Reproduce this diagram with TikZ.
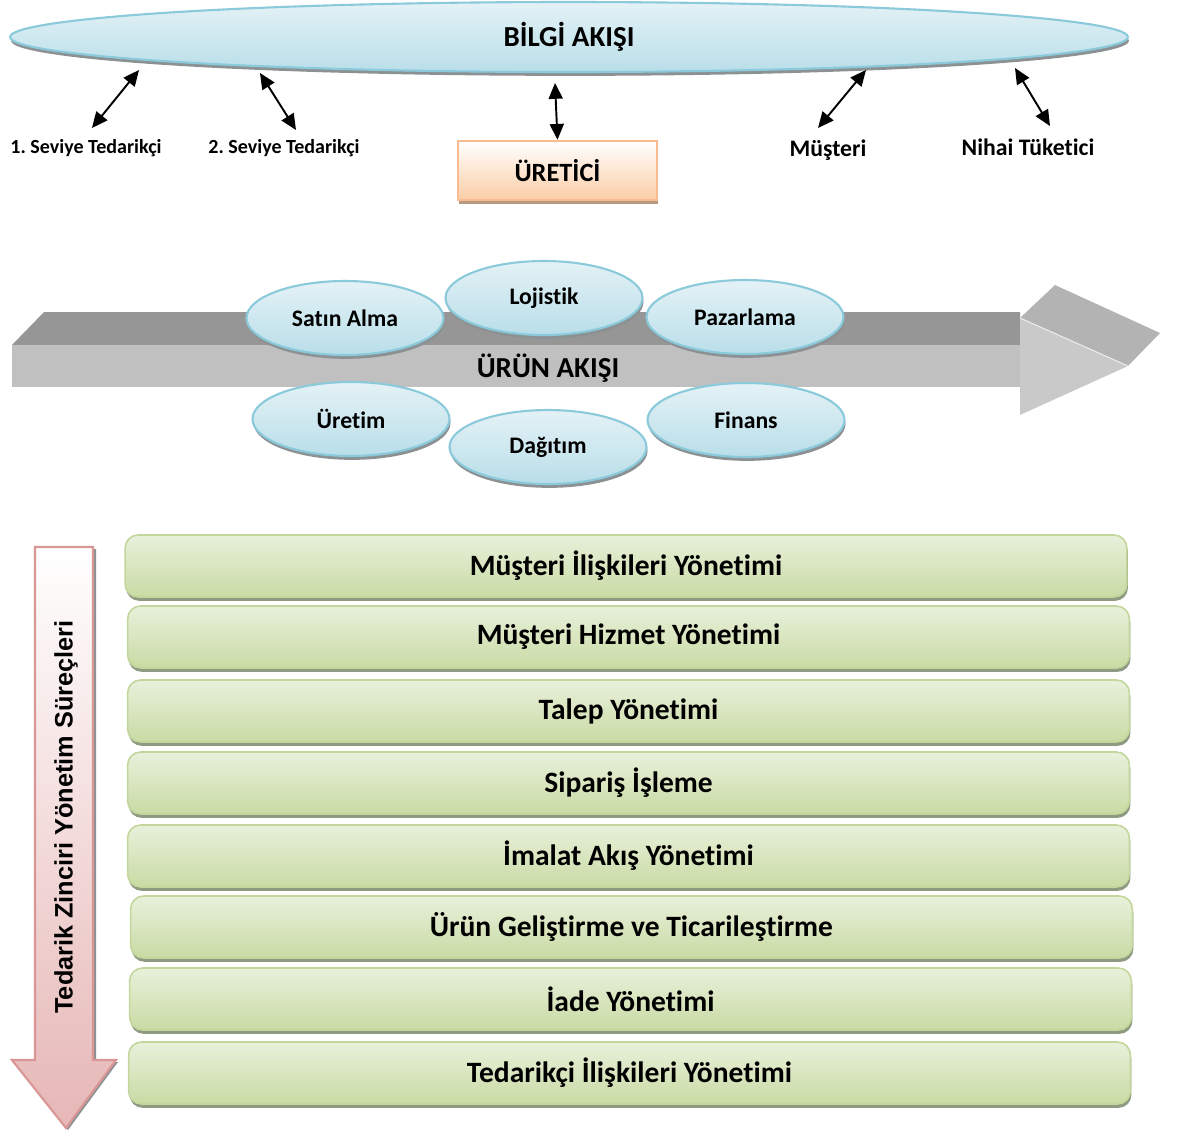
\documentclass[tikz,border=0pt]{standalone}
\usepackage{fontspec}
\setmainfont{Carlito}[Ligatures=NoCommon, RawFeature={-liga;-clig;-calt;-dlig}]
\newfontfamily\sidefont{Liberation Sans}
\usetikzlibrary{shapes.geometric,shadows,arrows.meta}

\definecolor{skyTop}{HTML}{E4F2F6}
\definecolor{skyBot}{HTML}{B9DEE9}
\definecolor{skyLine}{HTML}{8ACADB}
\definecolor{rimGray}{HTML}{8C9194}
\definecolor{peachBot}{HTML}{FBCDA6}
\definecolor{peachLine}{HTML}{F8BC90}
\definecolor{peachRim}{HTML}{B99A80}
\definecolor{leafTop}{HTML}{E8F0DB}
\definecolor{leafBot}{HTML}{C9DBA4}
\definecolor{leafLine}{HTML}{C3D69B}
\definecolor{leafRim}{HTML}{8F9A83}
\definecolor{roseBot}{HTML}{E6B7B6}
\definecolor{roseLine}{HTML}{D99694}
\definecolor{barTop}{HTML}{969696}
\definecolor{barFront}{HTML}{C0C0C0}
\definecolor{headTop}{HTML}{B3B3B3}
\definecolor{headFront}{HTML}{C9C9C9}

\tikzset{
  rim/.style={drop shadow={shadow xshift=0.6pt, shadow yshift=-2.2pt, fill=#1, opacity=1}},
  bluedisc/.style={ellipse, draw=skyLine, line width=1.2pt, top color=skyTop, bottom color=skyBot,
    minimum width=3.94cm, minimum height=1.48cm, inner sep=0pt, rim=rimGray,
    font=\bfseries\fontsize{13.5}{15}\selectfont},
  processbar/.style={rectangle, rounded corners=0.26cm, draw=leafLine, line width=0.9pt,
    top color=leafTop, bottom color=leafBot, minimum width=20.04cm, minimum height=1.24cm,
    rim=leafRim, font=\bfseries\fontsize{16.8}{18}\selectfont},
  partylabel/.style={font=\bfseries\fontsize{13.5}{15}\selectfont, inner sep=0pt},
  tierlabel/.style={font=\bfseries\fontsize{11.4}{13}\selectfont, inner sep=0pt},
  twohead/.style={{Triangle[length=9pt,width=8pt]}-{Triangle[length=9pt,width=8pt]}, line width=1.1pt},
}

\begin{document}
\frenchspacing
\begin{tikzpicture}[x=0.02cm, y=-0.02cm]
\useasboundingbox (0,0) rectangle (1177,1133);

% --- information flow ---
\node (bilgi) [ellipse, draw=skyLine, line width=1.2pt, top color=skyTop, bottom color=skyBot,
  minimum width=22.36cm, minimum height=1.4cm, rim=rimGray,
  font=\bfseries\fontsize{16.5}{18}\selectfont] at (569,37) {BİLGİ AKIŞI};

\node (t1) [tierlabel] at (86,148) {1. Seviye Tedarikçi};
\node (t2) [tierlabel] at (284,148) {2. Seviye Tedarikçi};
\node (uretici) [rectangle, draw=peachLine, line width=1.4pt, top color=white, bottom color=peachBot,
  minimum width=3.98cm, minimum height=1.18cm, rim=peachRim,
  font=\bfseries\fontsize{15}{17}\selectfont] at (557.5,170.5) {ÜRETİCİ};
\node (musteri) [partylabel] at (828,150) {Müşteri};
\node (nihai) [partylabel] at (1028,147) {Nihai Tüketici};

\coordinate (a1s) at (139,70);  \coordinate (a1e) at (92,128);
\coordinate (a2s) at (260,73);  \coordinate (a2e) at (296,130);
\coordinate (a3s) at (555,83);
\coordinate (a4s) at (866,70);  \coordinate (a4e) at (818,128);
\coordinate (a5s) at (1015,68); \coordinate (a5e) at (1050,126);
\draw[twohead] (a1s) -- (a1e);
\draw[twohead] (a2s) -- (a2e);
\draw[twohead] (a3s) -- (uretici.north);
\draw[twohead] (a4s) -- (a4e);
\draw[twohead] (a5s) -- (a5e);

% --- product flow: 3D arrow ---
\fill[barTop] (12,345) -- (44,312) -- (1020,312) -- (1020,345) -- cycle;
\fill[barFront] (12,345) rectangle (1020,387);
\fill[headTop] (1020,318) -- (1055,285) -- (1160,333) -- (1128,366) -- cycle;
\fill[headFront] (1020,318) -- (1128,366) -- (1020,415) -- cycle;
\draw[white!85!gray, line width=0.6pt] (1020,318) -- (1128,366);

\node (urun) [font=\bfseries\fontsize{16.5}{18}\selectfont] at (548,368) {ÜRÜN AKIŞI};

\node (satin)    [bluedisc] at (345,318) {Satın Alma};
\node (lojistik) [bluedisc] at (544,298) {Lojistik};
\node (pazar)    [bluedisc] at (745,317) {Pazarlama};
\node (uretim)   [bluedisc] at (351,419) {Üretim};
\node (dagitim)  [bluedisc] at (548,447) {Dağıtım};
\node (finans)   [bluedisc] at (746,420) {Finans};

% --- supply chain management processes ---
\fill[rimGray] (37,549) -- (96,549) -- (96,1062) -- (118,1062) -- (68,1130) -- (14,1062) -- (37,1062) -- cycle;
\shade[top color=white, bottom color=roseBot, draw=roseLine, line width=1.2pt]
  (35,547) -- (93,547) -- (93,1060) -- (116,1060) -- (66,1128) -- (12,1060) -- (35,1060) -- cycle;
\node (surec) [rotate=90, font=\sidefont\bfseries\fontsize{14.4}{16}\selectfont] at (66,817)
  {Tedarik Zinciri Yönetim Süreçleri};

\node (p1) [processbar] at (626,566)    {Müşteri İlişkileri Yönetimi};
\node (p2) [processbar] at (628.5,637)  {Müşteri Hizmet Yönetimi};
\node (p3) [processbar] at (628.5,711)  {Talep Yönetimi};
\node (p4) [processbar] at (628.5,783)  {Sipariş İşleme};
\node (p5) [processbar] at (628.5,856)  {İmalat Akış Yönetimi};
\node (p6) [processbar] at (631.5,927)  {Ürün Geliştirme ve Ticarileştirme};
\node (p7) [processbar] at (630.5,999)  {İade Yönetimi};
\node (p8) [processbar] at (629.5,1073) {Tedarikçi İlişkileri Yönetimi};
\end{tikzpicture}
\end{document}
